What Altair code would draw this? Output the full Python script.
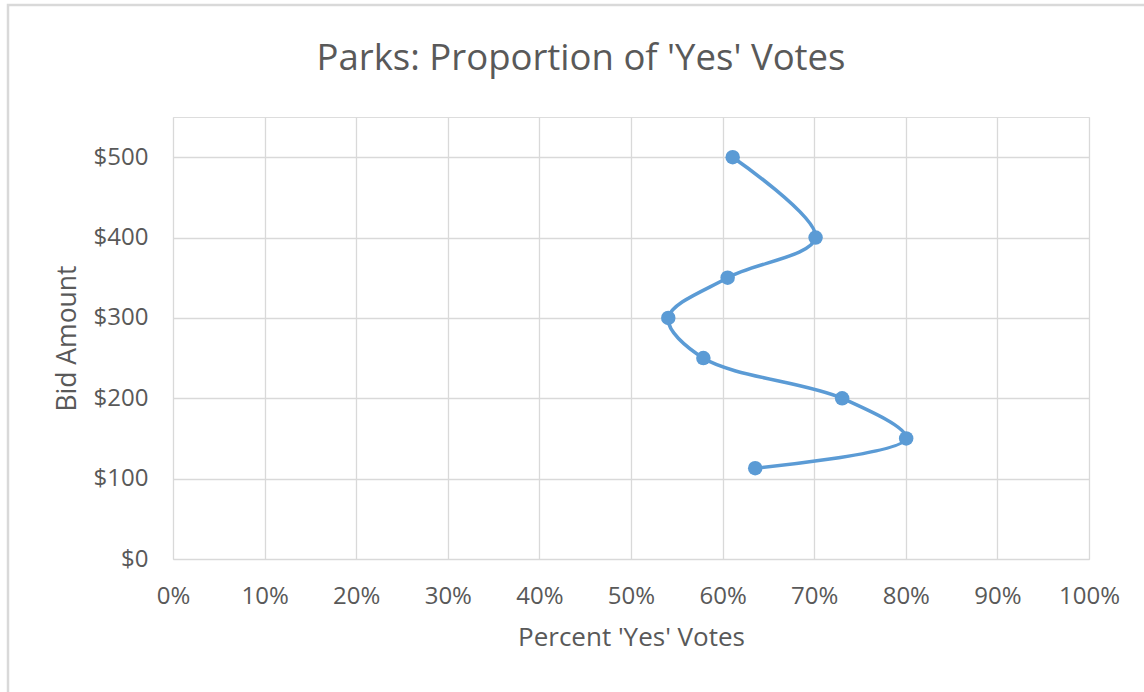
import altair as alt
import pandas as pd

# Data
bid_amount = [500, 400, 350, 300, 250, 200, 150, 113]
pct_yes = [0.611, 0.7015, 0.6055, 0.5407, 0.579, 0.7305, 0.8004, 0.6356]
order_idx = list(range(len(bid_amount)))

x_ticks = [i / 10 for i in range(11)]
y_ticks = [0, 100, 200, 300, 400, 500]

df = pd.DataFrame({"bid": bid_amount, "pct": pct_yes, "idx": order_idx})

FONT = "Open Sans"
GRAY = "#595959"
BLUE = "#5b9bd5"

x_enc = alt.X(
    "pct:Q",
    scale=alt.Scale(domain=[0, 1], nice=False),
    axis=alt.Axis(
        values=x_ticks, format=".0%", title="Percent 'Yes' Votes",
        grid=True, gridColor="#d9d9d9", gridWidth=1.3, domain=False, ticks=False,
        labelFont=FONT, labelFontSize=24, labelColor=GRAY, labelPadding=25,
        labelFlush=False,
        titleFont=FONT, titleFontSize=26, titleColor=GRAY, titleFontWeight="normal",
        titlePadding=16,
    ),
)
y_enc = alt.Y(
    "bid:Q",
    scale=alt.Scale(domain=[0, 550], nice=False),
    axis=alt.Axis(
        values=y_ticks, format="$.0f", title="Bid Amount",
        grid=True, gridColor="#d9d9d9", gridWidth=1.3, domain=False, ticks=False,
        labelFont=FONT, labelFontSize=24, labelColor=GRAY, labelPadding=25,
        labelFlush=False,
        titleFont=FONT, titleFontSize=26.5, titleColor=GRAY, titleFontWeight="normal",
        titlePadding=12,
    ),
)

base = alt.Chart(df)

line = base.mark_line(
    color=BLUE, strokeWidth=3.6, interpolate="catmull-rom"
).encode(x=x_enc, y=y_enc, order=alt.Order("idx:Q"))

points = base.mark_circle(color=BLUE, size=210, opacity=1).encode(x=x_enc, y=y_enc)

border = alt.Chart(pd.DataFrame({"a": [0]})).mark_rect(
    fill=None, stroke="#d9d9d9", strokeWidth=2.5
).encode(
    x=alt.value(-165), x2=alt.value(1010), y=alt.value(-112), y2=alt.value(620)
)

chart = alt.layer(border, line, points).properties(
    width=916,
    height=442,
    autosize=alt.AutoSizeParams(type="none"),
    padding={"left": 173, "top": 117, "right": 55, "bottom": 133},
    title=alt.TitleParams(
        "Parks: Proportion of 'Yes' Votes",
        font=FONT, fontSize=36.5, color=GRAY, fontWeight="normal",
        anchor="middle", frame="group", dx=-50, dy=74, offset=0,
    ),
).configure_view(stroke=None).configure(background="white")

chart.save("out.html", embed_options={"renderer": "svg", "actions": False})
